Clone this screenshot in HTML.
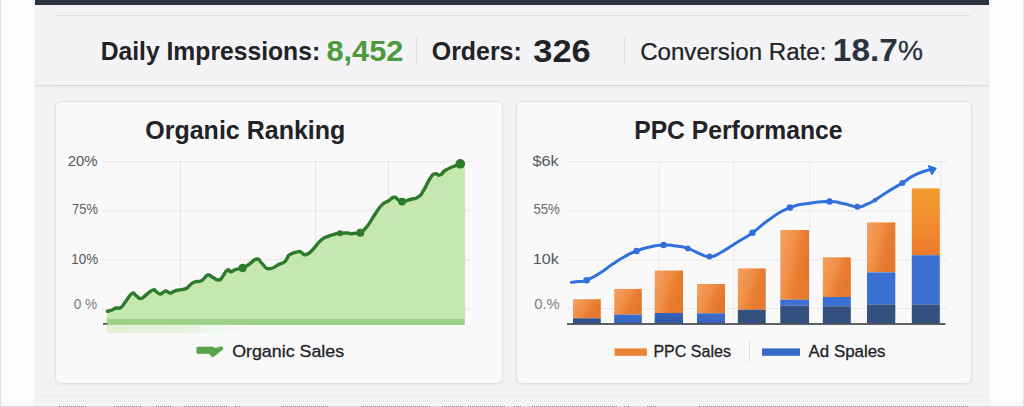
<!DOCTYPE html>
<html><head><meta charset="utf-8"><title>Dashboard</title>
<style>
html,body{margin:0;padding:0}
body{width:1024px;height:407px;overflow:hidden;background:#fcfcfc;position:relative;font-family:"Liberation Sans", sans-serif}
.panel{position:absolute;left:35px;top:0;width:954px;height:407px;background:#f3f3f5;box-shadow:0 0 2px rgba(0,0,0,.10)}
.topbar{position:absolute;left:35px;top:0;width:954px;height:4.8px;background:#2b3441}
.stats{position:absolute;left:55px;top:15.3px;width:915px;height:70px;background:#f4f4f6;border-top:1px solid #dfdfe1;box-sizing:border-box}
.sepline{position:absolute;left:35px;top:85px;width:954px;height:1.3px;background:#d6d6d8;box-shadow:0 1px 2px rgba(0,0,0,.06)}
.card{position:absolute;top:101px;height:283px;background:#f9f9fa;border:1px solid #e2e2e4;border-radius:6px;box-sizing:border-box;box-shadow:0 1px 2px rgba(0,0,0,.05)}
.c1{left:55px;width:447.5px}
.c2{left:516px;width:455.5px}
.vsep{position:absolute;width:1px;background:#e0e0e2}
.t{position:absolute;white-space:nowrap;transform-origin:0 50%;display:block}
.cv{position:absolute;left:0;top:0}
.edgeL{position:absolute;left:0;top:0;width:1px;height:407px;background:#dedee0}
.edgeR{position:absolute;left:1023px;top:0;width:1px;height:407px;background:#e6e6e6}
.botline{position:absolute;left:35px;top:395px;width:954px;height:1px;background:#ececee}
.botdots{position:absolute;left:0;top:406px;width:1024px;height:1px;background:#dadadc}
</style></head><body>
<div class="edgeL"></div><div class="edgeR"></div>
<div class="panel"></div>
<div class="topbar"></div>
<div class="stats"></div>
<div class="sepline"></div>
<div class="vsep" style="left:416px;top:37px;height:27px"></div>
<div class="vsep" style="left:624px;top:37px;height:27px"></div>
<div class="card c1"></div>
<div class="card c2"></div>
<div class="botline"></div>
<svg class="cv" width="1024" height="407" viewBox="0 0 1024 407">
<defs>
<linearGradient id="og" x1="0" y1="0" x2="1" y2="0.45"><stop offset="0" stop-color="#f5a263"/><stop offset="0.5" stop-color="#f08d44"/><stop offset="0.72" stop-color="#e87e32"/><stop offset="1" stop-color="#e4782c"/></linearGradient>
<linearGradient id="og9" x1="0" y1="0" x2="0" y2="1"><stop offset="0" stop-color="#f29c30"/><stop offset="0.5" stop-color="#f08c2e"/><stop offset="1" stop-color="#ee7a2c"/></linearGradient>
<linearGradient id="bg1" x1="0" y1="0" x2="0" y2="1"><stop offset="0" stop-color="#3b6dcb"/><stop offset="0.7" stop-color="#3868c2"/><stop offset="1" stop-color="#3259a8"/></linearGradient>
<linearGradient id="bg2" x1="0" y1="0" x2="0" y2="1"><stop offset="0" stop-color="#3765bb"/><stop offset="1" stop-color="#30569f"/></linearGradient>
<linearGradient id="lb" x1="0" y1="0" x2="1" y2="0"><stop offset="0" stop-color="#dff0d4"/><stop offset="0.5" stop-color="#e6f3de"/><stop offset="1" stop-color="#eef5ea" stop-opacity="0"/></linearGradient>
</defs>
<line x1="102.5" y1="161.7" x2="471" y2="161.7" stroke="#e0e0e2" stroke-width="1" stroke-dasharray="3 1"/>
<line x1="102.5" y1="210.7" x2="471" y2="210.7" stroke="#e0e0e2" stroke-width="1" stroke-dasharray="3 1"/>
<line x1="102.5" y1="259.8" x2="471" y2="259.8" stroke="#e0e0e2" stroke-width="1" stroke-dasharray="3 1"/>
<line x1="102.5" y1="309.2" x2="471" y2="309.2" stroke="#e0e0e2" stroke-width="1" stroke-dasharray="3 1"/>
<line x1="180.6" y1="161.7" x2="180.6" y2="318" stroke="#e6e6e8" stroke-width="1"/>
<line x1="315.5" y1="161.7" x2="315.5" y2="318" stroke="#e6e6e8" stroke-width="1"/>
<line x1="388.6" y1="161.7" x2="388.6" y2="318" stroke="#e6e6e8" stroke-width="1"/>
<line x1="464.8" y1="161.7" x2="464.8" y2="318" stroke="#e6e6e8" stroke-width="1"/>
<path d="M107.4,311.3C108.8,310.9 109.4,311.0 112.0,310.0C114.6,309.0 113.3,308.8 116.0,308.0C118.7,307.2 118.0,309.4 121.0,307.3C124.0,305.2 122.7,305.1 126.0,301.0C129.3,296.9 129.0,295.1 132.0,293.5C135.0,291.9 133.4,294.0 136.0,295.5C138.6,297.0 137.5,298.6 140.5,298.5C143.5,298.4 142.3,297.6 146.0,295.0C149.7,292.4 149.8,291.1 152.8,290.0C155.8,288.9 153.8,290.3 156.0,291.5C158.2,292.7 157.9,293.7 160.0,294.0C162.1,294.3 161.2,293.4 163.0,292.5C164.8,291.6 163.9,290.9 166.0,291.0C168.1,291.1 167.6,292.9 170.0,293.0C172.4,293.1 171.4,292.2 174.0,291.3C176.6,290.4 175.0,290.8 178.6,290.0C182.2,289.2 182.6,290.1 186.0,288.6C189.4,287.1 187.4,287.0 190.0,285.0C192.6,283.0 191.4,283.2 194.6,282.0C197.8,280.8 197.9,282.1 200.7,281.0C203.5,279.9 201.8,280.3 204.0,278.5C206.2,276.7 205.3,275.3 208.0,275.0C210.7,274.7 209.7,276.0 213.0,277.5C216.3,279.0 216.0,280.4 219.0,280.0C222.0,279.6 220.5,279.0 223.0,276.0C225.5,273.0 225.0,271.3 227.4,270.0C229.8,268.7 228.4,271.9 231.0,271.7C233.6,271.5 232.5,270.4 236.0,269.3C239.5,268.2 238.5,269.6 242.6,268.0C246.7,266.4 245.2,266.7 249.5,264.0C253.8,261.3 253.1,259.1 256.9,259.0C260.6,258.9 258.4,260.6 262.0,263.5C265.6,266.4 263.9,268.5 269.0,268.8C274.1,269.1 274.4,266.4 279.0,264.4C283.6,262.4 282.0,263.8 284.4,262.0C286.8,260.2 285.3,260.8 287.0,258.5C288.7,256.2 286.5,256.6 290.0,254.5C293.5,252.4 295.0,252.0 298.6,251.6C302.2,251.2 299.8,252.1 302.0,253.0C304.2,253.9 303.0,255.3 306.0,254.5C309.0,253.7 307.6,254.6 312.0,250.4C316.4,246.2 315.9,244.7 320.7,240.5C325.5,236.3 323.6,238.3 328.0,236.4C332.4,234.5 331.9,235.0 335.5,234.0C339.1,233.0 336.3,233.5 340.0,233.2C343.7,232.9 344.6,232.8 347.8,233.0C351.0,233.2 348.6,233.7 350.8,233.8C353.0,233.9 352.1,233.5 355.0,233.2C357.9,232.9 356.7,234.7 360.3,232.7C363.9,230.7 362.6,232.0 367.0,226.5C371.4,221.0 370.5,220.8 375.0,214.3C379.5,207.8 377.8,209.0 381.9,204.9C386.0,200.8 385.0,203.1 388.6,200.8C392.2,198.5 391.2,197.7 394.0,197.3C396.8,196.9 395.6,198.2 398.0,199.5C400.4,200.8 398.3,201.6 402.0,201.6C405.7,201.6 405.4,200.9 410.3,199.5C415.2,198.1 414.3,199.7 418.4,196.8C422.4,194.0 420.2,195.7 423.8,190.0C427.4,184.3 427.1,182.7 430.5,177.8C433.9,172.9 432.1,174.6 435.0,173.8C437.9,173.0 436.9,176.1 440.0,175.0C443.1,173.9 441.3,172.9 445.4,170.3C449.4,167.8 449.0,168.4 453.5,166.5C458.0,164.6 458.3,164.6 460.3,163.8L464.8,163.8L464.8,318.5L106.8,318.5Z" fill="#b9e39e" fill-opacity="0.8"/>
<rect x="106.8" y="318.6" width="358" height="6.4" fill="#9ed087"/>
<rect x="106.8" y="324.8" width="150" height="8.2" fill="url(#lb)"/>
<rect x="103" y="323" width="4.5" height="1.6" fill="#4a4a4a"/>
<path d="M107.4,311.3C108.8,310.9 109.4,311.0 112.0,310.0C114.6,309.0 113.3,308.8 116.0,308.0C118.7,307.2 118.0,309.4 121.0,307.3C124.0,305.2 122.7,305.1 126.0,301.0C129.3,296.9 129.0,295.1 132.0,293.5C135.0,291.9 133.4,294.0 136.0,295.5C138.6,297.0 137.5,298.6 140.5,298.5C143.5,298.4 142.3,297.6 146.0,295.0C149.7,292.4 149.8,291.1 152.8,290.0C155.8,288.9 153.8,290.3 156.0,291.5C158.2,292.7 157.9,293.7 160.0,294.0C162.1,294.3 161.2,293.4 163.0,292.5C164.8,291.6 163.9,290.9 166.0,291.0C168.1,291.1 167.6,292.9 170.0,293.0C172.4,293.1 171.4,292.2 174.0,291.3C176.6,290.4 175.0,290.8 178.6,290.0C182.2,289.2 182.6,290.1 186.0,288.6C189.4,287.1 187.4,287.0 190.0,285.0C192.6,283.0 191.4,283.2 194.6,282.0C197.8,280.8 197.9,282.1 200.7,281.0C203.5,279.9 201.8,280.3 204.0,278.5C206.2,276.7 205.3,275.3 208.0,275.0C210.7,274.7 209.7,276.0 213.0,277.5C216.3,279.0 216.0,280.4 219.0,280.0C222.0,279.6 220.5,279.0 223.0,276.0C225.5,273.0 225.0,271.3 227.4,270.0C229.8,268.7 228.4,271.9 231.0,271.7C233.6,271.5 232.5,270.4 236.0,269.3C239.5,268.2 238.5,269.6 242.6,268.0C246.7,266.4 245.2,266.7 249.5,264.0C253.8,261.3 253.1,259.1 256.9,259.0C260.6,258.9 258.4,260.6 262.0,263.5C265.6,266.4 263.9,268.5 269.0,268.8C274.1,269.1 274.4,266.4 279.0,264.4C283.6,262.4 282.0,263.8 284.4,262.0C286.8,260.2 285.3,260.8 287.0,258.5C288.7,256.2 286.5,256.6 290.0,254.5C293.5,252.4 295.0,252.0 298.6,251.6C302.2,251.2 299.8,252.1 302.0,253.0C304.2,253.9 303.0,255.3 306.0,254.5C309.0,253.7 307.6,254.6 312.0,250.4C316.4,246.2 315.9,244.7 320.7,240.5C325.5,236.3 323.6,238.3 328.0,236.4C332.4,234.5 331.9,235.0 335.5,234.0C339.1,233.0 336.3,233.5 340.0,233.2C343.7,232.9 344.6,232.8 347.8,233.0C351.0,233.2 348.6,233.7 350.8,233.8C353.0,233.9 352.1,233.5 355.0,233.2C357.9,232.9 356.7,234.7 360.3,232.7C363.9,230.7 362.6,232.0 367.0,226.5C371.4,221.0 370.5,220.8 375.0,214.3C379.5,207.8 377.8,209.0 381.9,204.9C386.0,200.8 385.0,203.1 388.6,200.8C392.2,198.5 391.2,197.7 394.0,197.3C396.8,196.9 395.6,198.2 398.0,199.5C400.4,200.8 398.3,201.6 402.0,201.6C405.7,201.6 405.4,200.9 410.3,199.5C415.2,198.1 414.3,199.7 418.4,196.8C422.4,194.0 420.2,195.7 423.8,190.0C427.4,184.3 427.1,182.7 430.5,177.8C433.9,172.9 432.1,174.6 435.0,173.8C437.9,173.0 436.9,176.1 440.0,175.0C443.1,173.9 441.3,172.9 445.4,170.3C449.4,167.8 449.0,168.4 453.5,166.5C458.0,164.6 458.3,164.6 460.3,163.8" fill="none" stroke="#2e7a2c" stroke-width="3.4" stroke-linejoin="round" stroke-linecap="round"/>
<circle cx="242.6" cy="268" r="4.2" fill="#2e7a2c"/>
<circle cx="340" cy="233.3" r="3.0" fill="#2e7a2c"/>
<circle cx="360.3" cy="232.8" r="4.0" fill="#2e7a2c"/>
<circle cx="402" cy="201.6" r="3.9" fill="#2e7a2c"/>
<circle cx="460.3" cy="163.8" r="4.8" fill="#2e7a2c"/>
<path d="M197.6,347.1 L212.3,346.9 L215.6,348.3 L219.8,346.9 L222.8,347.1 Q223.5,348.4 222.6,349.6 L212.6,357.3 L209.2,353.6 L197.6,353.6 Q196.8,353.6 196.8,352.7 L196.8,348 Q196.8,347.1 197.6,347.1 Z" fill="#57a447" stroke="#57a447" stroke-width="0.6" stroke-linejoin="round"/>
<line x1="567" y1="161.8" x2="946" y2="161.8" stroke="#e3e3e5" stroke-width="1" stroke-dasharray="3 1"/>
<line x1="567" y1="210.8" x2="946" y2="210.8" stroke="#e3e3e5" stroke-width="1" stroke-dasharray="3 1"/>
<line x1="567" y1="259.9" x2="946" y2="259.9" stroke="#e3e3e5" stroke-width="1" stroke-dasharray="3 1"/>
<line x1="567" y1="308.6" x2="946" y2="308.6" stroke="#e3e3e5" stroke-width="1" stroke-dasharray="3 1"/>
<line x1="659" y1="161.8" x2="659" y2="323" stroke="#ebebed" stroke-width="1"/>
<line x1="734" y1="161.8" x2="734" y2="323" stroke="#ebebed" stroke-width="1"/>
<line x1="809.7" y1="161.8" x2="809.7" y2="323" stroke="#ebebed" stroke-width="1"/>
<line x1="941" y1="161.8" x2="941" y2="323" stroke="#ebebed" stroke-width="1"/>
<rect x="573" y="299.2" width="27.8" height="19.1" fill="url(#og)"/>
<rect x="573" y="318.3" width="27.8" height="5.3" fill="#30508f"/>
<rect x="614.2" y="288.9" width="27.6" height="25.7" fill="url(#og)"/>
<rect x="614.2" y="314.6" width="27.6" height="9.0" fill="url(#bg1)"/>
<rect x="654.7" y="270.5" width="28.3" height="42.5" fill="url(#og)"/>
<rect x="654.7" y="313.0" width="28.3" height="10.6" fill="url(#bg2)"/>
<rect x="697" y="284" width="28.0" height="29.3" fill="url(#og)"/>
<rect x="697" y="313.3" width="28.0" height="10.3" fill="url(#bg1)"/>
<rect x="737.8" y="268.4" width="27.9" height="41.3" fill="url(#og)"/>
<rect x="737.8" y="309.7" width="27.9" height="13.9" fill="#34507f"/>
<rect x="780.3" y="230" width="28.7" height="69.7" fill="url(#og)"/>
<rect x="780.3" y="299.7" width="28.7" height="6.0" fill="#3a70d2"/>
<rect x="780.3" y="305.7" width="28.7" height="17.9" fill="#34507f"/>
<rect x="822.8" y="257.3" width="28.0" height="39.7" fill="url(#og)"/>
<rect x="822.8" y="297" width="28.0" height="9.3" fill="#3a70d2"/>
<rect x="822.8" y="306.3" width="28.0" height="17.3" fill="#34507f"/>
<rect x="867" y="222.4" width="28.3" height="50.0" fill="url(#og)"/>
<rect x="867" y="272.4" width="28.3" height="32.0" fill="#3a70d2"/>
<rect x="867" y="304.4" width="28.3" height="19.2" fill="#34507f"/>
<rect x="911.8" y="188.4" width="28.0" height="66.8" fill="url(#og9)"/>
<rect x="911.8" y="255.2" width="28.0" height="49.2" fill="#3a70d2"/>
<rect x="911.8" y="304.4" width="28.0" height="19.2" fill="#34507f"/>
<rect x="567" y="323.1" width="378.5" height="1.8" fill="#4c4e52"/>
<path d="M571.4,282.3C573.7,282.1 574.4,282.2 579.0,281.6C583.6,281.0 580.3,282.8 586.6,280.2C592.9,277.6 592.4,277.7 600.0,273.0C607.6,268.3 604.8,269.3 612.0,264.5C619.2,259.7 616.6,261.1 624.0,257.0C631.4,252.9 628.7,254.0 636.5,251.0C644.3,248.0 641.9,248.8 650.0,247.0C658.1,245.2 655.7,245.3 663.5,245.0C671.3,244.7 668.7,245.0 676.0,246.0C683.3,247.0 680.6,246.1 687.8,248.4C695.0,250.7 693.5,251.4 700.0,253.8C706.5,256.2 703.5,256.7 709.5,256.5C715.5,256.3 712.0,257.1 720.0,253.0C728.0,248.9 726.2,249.1 736.0,243.0C745.8,236.9 742.3,239.9 752.5,232.7C762.7,225.5 758.8,226.5 770.0,219.0C781.2,211.5 778.0,212.3 790.0,207.6C802.0,202.9 798.1,205.1 810.0,203.3C821.9,201.5 819.6,201.4 829.5,201.5C839.4,201.6 834.7,201.9 843.0,203.5C851.3,205.1 850.4,206.5 857.3,206.8C864.2,207.1 860.7,206.5 866.0,204.5C871.3,202.5 868.4,203.9 875.0,200.0C881.6,196.1 879.8,196.6 888.0,191.5C896.2,186.4 894.3,188.0 902.4,183.0C910.5,178.0 906.7,178.8 915.0,174.8C923.3,170.8 925.5,171.2 930.0,169.6" fill="none" stroke="#3170dc" stroke-width="3" stroke-linejoin="round" stroke-linecap="round"/>
<circle cx="586.6" cy="280.2" r="3.3" fill="#3170dc"/>
<circle cx="636.5" cy="251" r="3.2" fill="#3170dc"/>
<circle cx="663.5" cy="245" r="3.2" fill="#3170dc"/>
<circle cx="687.8" cy="248.4" r="2.8" fill="#3170dc"/>
<circle cx="709.5" cy="256.5" r="3.0" fill="#3170dc"/>
<circle cx="752.5" cy="232.7" r="3.2" fill="#3170dc"/>
<circle cx="790" cy="207.6" r="3.3" fill="#3170dc"/>
<circle cx="829.5" cy="201.5" r="3.2" fill="#3170dc"/>
<circle cx="857.3" cy="206.8" r="3.0" fill="#3170dc"/>
<circle cx="875" cy="200.2" r="2.3" fill="#3170dc"/>
<circle cx="902.4" cy="183" r="3.0" fill="#3170dc"/>
<path d="M928.3,165.6 L936.3,168.3 L931.8,175 Z" fill="#3170dc" stroke="#3170dc" stroke-width="1" stroke-linejoin="round"/>
<rect x="614.6" y="348.4" width="32.3" height="7.4" fill="#ee8233"/>
<rect x="762" y="348.4" width="38" height="7.4" fill="#346bc6"/>
<rect x="749" y="341" width="1" height="21" fill="#dedfe0"/>
</svg>
<svg class="cv" width="1024" height="407" viewBox="0 0 1024 407" font-family='"Liberation Sans", sans-serif'>
<text transform="translate(100.64,59.90) scale(0.9498,1)" font-size="26" font-weight="700" fill="#222326">Daily Impressions:</text>
<text transform="translate(326.43,61.30) scale(1.0671,1)" font-size="28.8" font-weight="700" fill="#4c9a3c">8,452</text>
<text transform="translate(431.76,60.00) scale(0.9439,1)" font-size="26.4" font-weight="700" fill="#222326">Orders:</text>
<text transform="translate(533.28,61.50) scale(1.0916,1)" font-size="31.5" font-weight="700" fill="#222326">326</text>
<text transform="translate(640.14,59.80) scale(1.0049,1)" font-size="24" font-weight="400" fill="#222326" stroke="#222326" stroke-width="0.25">Conversion Rate:</text>
<text transform="translate(832.84,61.20) scale(1.0789,1)" font-size="31" font-weight="700" fill="#2b3340">18.7</text>
<text transform="translate(897.98,60.40) scale(1.0222,1)" font-size="27.5" font-weight="400" fill="#2b3340" stroke="#2b3340" stroke-width="0.3">%</text>
<text transform="translate(145.24,138.60) scale(0.9627,1)" font-size="26" font-weight="700" fill="#222326">Organic Ranking</text>
<text transform="translate(634.24,138.70) scale(0.9484,1)" font-size="26" font-weight="700" fill="#222326">PPC Performance</text>
<text transform="translate(67.71,165.70) scale(1.0481,1)" font-size="14.2" font-weight="400" fill="#55575a">20%</text>
<text transform="translate(72.12,214.40) scale(0.9111,1)" font-size="14.2" font-weight="400" fill="#5e6063">75%</text>
<text transform="translate(71.26,263.70) scale(0.9421,1)" font-size="14.2" font-weight="400" fill="#55575a">10%</text>
<text transform="translate(73.72,309.00) scale(0.9617,1)" font-size="14.2" font-weight="400" fill="#7a7c7f">0 %</text>
<text transform="translate(532.52,165.70) scale(1.1140,1)" font-size="14.6" font-weight="400" fill="#55575a">$6k</text>
<text transform="translate(533.40,214.30) scale(0.9333,1)" font-size="14.2" font-weight="400" fill="#6a6c6f">55%</text>
<text transform="translate(532.69,263.70) scale(1.1067,1)" font-size="14.6" font-weight="400" fill="#55575a">10k</text>
<text transform="translate(534.18,308.90) scale(1.0468,1)" font-size="14.2" font-weight="400" fill="#808285">0.%</text>
<text transform="translate(232.13,357.10) scale(1.0255,1)" font-size="17.4" font-weight="400" fill="#222326" stroke="#222326" stroke-width="0.3">Organic Sales</text>
<text transform="translate(653.42,357.40) scale(0.9220,1)" font-size="17.4" font-weight="400" fill="#222326" stroke="#222326" stroke-width="0.3">PPC Sales</text>
<text transform="translate(808.60,357.40) scale(0.9707,1)" font-size="17.4" font-weight="400" fill="#222326" stroke="#222326" stroke-width="0.3">Ad Spales</text>
</svg>
<div class="botdots"></div>
<svg class="cv" width="1024" height="407" viewBox="0 0 1024 407" shape-rendering="crispEdges"><line x1="59" y1="406.5" x2="86" y2="406.5" stroke="#8c8c8e" stroke-width="1" stroke-dasharray="1 1"/><line x1="114" y1="406.5" x2="141" y2="406.5" stroke="#8c8c8e" stroke-width="1" stroke-dasharray="1 1"/><line x1="156" y1="406.5" x2="171" y2="406.5" stroke="#8c8c8e" stroke-width="1" stroke-dasharray="1 1"/><line x1="184" y1="406.5" x2="228" y2="406.5" stroke="#8c8c8e" stroke-width="1" stroke-dasharray="1 1"/><line x1="235" y1="406.5" x2="241" y2="406.5" stroke="#8c8c8e" stroke-width="1" stroke-dasharray="1 1"/><line x1="281" y1="406.5" x2="328" y2="406.5" stroke="#8c8c8e" stroke-width="1" stroke-dasharray="1 1"/><line x1="361" y1="406.5" x2="431" y2="406.5" stroke="#8c8c8e" stroke-width="1" stroke-dasharray="1 1"/><line x1="442" y1="406.5" x2="463" y2="406.5" stroke="#8c8c8e" stroke-width="1" stroke-dasharray="1 1"/><line x1="468" y1="406.5" x2="506" y2="406.5" stroke="#8c8c8e" stroke-width="1" stroke-dasharray="1 1"/><line x1="514" y1="406.5" x2="522" y2="406.5" stroke="#8c8c8e" stroke-width="1" stroke-dasharray="1 1"/><line x1="532" y1="406.5" x2="617" y2="406.5" stroke="#8c8c8e" stroke-width="1" stroke-dasharray="1 1"/><line x1="624" y1="406.5" x2="629" y2="406.5" stroke="#8c8c8e" stroke-width="1" stroke-dasharray="1 1"/><line x1="647" y1="406.5" x2="657" y2="406.5" stroke="#8c8c8e" stroke-width="1" stroke-dasharray="1 1"/><line x1="699" y1="406.5" x2="968" y2="406.5" stroke="#8c8c8e" stroke-width="1" stroke-dasharray="1 1"/></svg>
</body></html>
